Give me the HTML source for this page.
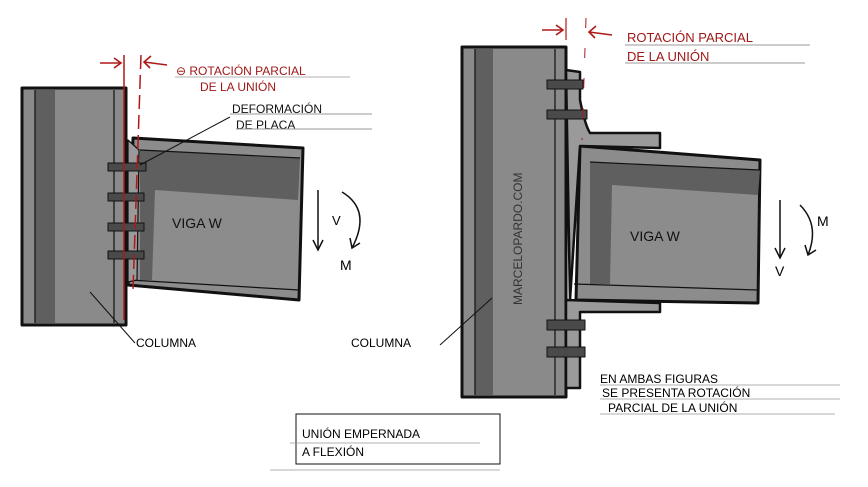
<!DOCTYPE html>
<html><head><meta charset="utf-8"><style>
html,body{margin:0;padding:0;background:#fff;}
svg{display:block;}
text{font-family:"Liberation Sans",sans-serif;}
</style></head><body>
<svg width="868" height="487" viewBox="0 0 868 487" xmlns="http://www.w3.org/2000/svg">
<rect width="868" height="487" fill="#fff"/>
<!-- LEFT FIGURE -->
<g stroke="#111" stroke-linejoin="round">
<rect x="22" y="88" width="104" height="237" fill="#8a8a8a" stroke-width="3"/>
<rect x="35" y="90" width="20" height="233" fill="#5f5f5f" stroke="none"/>
<line x1="35" y1="90" x2="35" y2="323" stroke-width="1.2"/>
<line x1="114" y1="90" x2="114" y2="323" stroke-width="1.2"/>
<polygon points="133,138 303,148 299,300 128,285" fill="#8c8c8c" stroke-width="3"/>
<polygon points="140,150 300,158 298,200 155,190 152,280 140,280" fill="#5f5f5f" stroke="none"/>
<line x1="140" y1="150" x2="300" y2="158" stroke-width="1.2"/>
<line x1="130" y1="280" x2="299" y2="290" stroke-width="1.2"/>
<polygon points="128,140 139,150 137,280 128,282" fill="#9a9a9a" stroke-width="1.2"/>
<g fill="#4a4a4a" stroke-width="1">
<rect x="108" y="163" width="38" height="8"/><rect x="108" y="193" width="36" height="8"/>
<rect x="108" y="223" width="36" height="8"/><rect x="108" y="251" width="36" height="8"/>
</g>
</g>
<line x1="124" y1="55" x2="124" y2="320" stroke="#b01818" stroke-width="1.5"/>
<line x1="141" y1="55" x2="133" y2="290" stroke="#b01818" stroke-width="1.5" stroke-dasharray="14,6"/>
<g stroke="#b01818" stroke-width="1.6" fill="none">
<line x1="100" y1="63" x2="121" y2="63"/><polyline points="114,58 121,63 114,68"/>
<line x1="167" y1="65" x2="144" y2="62"/><polyline points="151,56 144,62 150,68"/>
<line x1="175" y1="77" x2="350" y2="77" stroke="#999" stroke-width="0.8"/>
</g>
<text x="176" y="75" font-size="12" fill="#a01818">⊖ ROTACIÓN PARCIAL</text>
<text x="200" y="91" font-size="12" fill="#a01818">DE LA UNIÓN</text>
<text x="232" y="113" font-size="12" fill="#111">DEFORMACIÓN</text>
<text x="236" y="129" font-size="12" fill="#111">DE PLACA</text>
<line x1="230" y1="114" x2="372" y2="114" stroke="#999"/>
<line x1="236" y1="129" x2="372" y2="129" stroke="#999"/>
<line x1="230" y1="117" x2="140" y2="165" stroke="#111"/>
<text x="172" y="228" font-size="14" fill="#111">VIGA W</text>
<g stroke="#111" stroke-width="1.5" fill="none">
<line x1="318" y1="190" x2="318" y2="250"/><polyline points="313,240 318,250 323,240"/>
<path d="M342,192 Q372,210 352,248"/><polyline points="350,238 352,248 360,243"/>
<line x1="135" y1="343" x2="90" y2="292" stroke-width="1"/>
<line x1="348" y1="338" x2="440" y2="345" stroke-width="0"/>
</g>
<text x="332" y="225" font-size="13">V</text>
<text x="340" y="270" font-size="14">M</text>
<text x="136" y="347" font-size="12">COLUMNA</text>
<!-- RIGHT FIGURE -->
<g stroke="#111" stroke-linejoin="round">
<rect x="462" y="47" width="104" height="350" fill="#8a8a8a" stroke-width="3"/>
<rect x="475" y="49" width="18" height="346" fill="#5f5f5f" stroke="none"/>
<line x1="475" y1="49" x2="475" y2="395" stroke-width="1.2"/>
<line x1="555" y1="49" x2="555" y2="395" stroke-width="1.2"/>
<polygon points="580,146 760,160 758,303 576,300" fill="#8c8c8c" stroke-width="3"/>
<polygon points="590,162 760,170 758,195 612,185 610,284 590,284" fill="#5f5f5f" stroke="none"/>
<line x1="590" y1="162" x2="760" y2="170" stroke-width="1.2"/>
<line x1="574" y1="284" x2="758" y2="290" stroke-width="1.2"/>
<path d="M566,70 L580,72 L580,100 Q585,125 590,133 L660,133 L660,148 L580,146 L570,300 Z" fill="#9a9a9a" stroke-width="2.5"/>
<polygon points="566,300 660,303 660,312 580,312 580,388 566,388" fill="#9a9a9a" stroke-width="2.5"/>
<g fill="#4a4a4a" stroke-width="1">
<rect x="547" y="80" width="36" height="9"/><rect x="547" y="110" width="40" height="9"/>
<rect x="547" y="320" width="38" height="10"/><rect x="547" y="347" width="38" height="10"/>
</g>
</g>
<text x="0" y="0" font-size="12" fill="#333" transform="translate(522,305) rotate(-90)">MARCELOPARDO.COM</text>
<line x1="566" y1="18" x2="566" y2="40" stroke="#b01818" stroke-width="1.2"/>
<line x1="586" y1="18" x2="582" y2="140" stroke="#b01818" stroke-width="1" stroke-dasharray="10,20"/>
<g stroke="#b01818" stroke-width="1.6" fill="none">
<line x1="542" y1="30" x2="563" y2="30"/><polyline points="556,25 563,30 556,35"/>
<line x1="612" y1="35" x2="589" y2="32"/><polyline points="596,26 589,32 595,38"/>
</g>
<line x1="625" y1="45" x2="810" y2="45" stroke="#999"/>
<line x1="625" y1="63" x2="805" y2="63" stroke="#999"/>
<text x="627" y="42" font-size="13" fill="#a01818">ROTACIÓN  PARCIAL</text>
<text x="627" y="61" font-size="13" fill="#a01818">DE LA UNIÓN</text>
<text x="630" y="241" font-size="14" fill="#111">VIGA W</text>
<g stroke="#111" stroke-width="1.5" fill="none">
<line x1="780" y1="200" x2="780" y2="258"/><polyline points="775,248 780,258 785,248"/>
<path d="M800,205 Q820,225 808,255"/><polyline points="805,245 808,255 816,250"/>
<line x1="440" y1="345" x2="492" y2="298" stroke-width="1"/>
<line x1="600" y1="385" x2="840" y2="385" stroke="#999" stroke-width="0.8"/>
<line x1="600" y1="399" x2="840" y2="399" stroke="#999" stroke-width="0.8"/>
<line x1="600" y1="414" x2="835" y2="414" stroke="#999" stroke-width="0.8"/>
<rect x="296" y="414" width="204" height="50" stroke-width="1"/>
<line x1="290" y1="443" x2="480" y2="443" stroke="#999" stroke-width="0.8"/>
<line x1="270" y1="470" x2="500" y2="470" stroke="#999" stroke-width="0.8"/>
</g>
<text x="775" y="276" font-size="14">V</text>
<text x="817" y="226" font-size="14">M</text>
<text x="351" y="347" font-size="12">COLUMNA</text>
<text x="600" y="383" font-size="12">EN AMBAS FIGURAS</text>
<text x="602" y="397" font-size="12">SE PRESENTA ROTACIÓN</text>
<text x="608" y="412" font-size="12">PARCIAL DE LA UNIÓN</text>
<text x="302" y="438" font-size="12">UNIÓN EMPERNADA</text>
<text x="302" y="456" font-size="12">A FLEXIÓN</text>
</svg>
</body></html>
